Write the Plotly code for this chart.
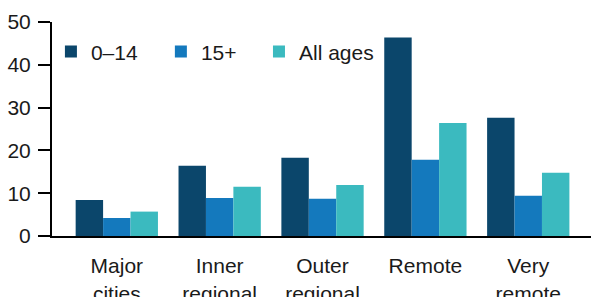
import plotly.graph_objects as go

categories = ["Major<br>cities", "Inner<br>regional", "Outer<br>regional", "Remote", "Very<br>remote"]
series_names = ["0–14", "15+", "All ages"]
age_0_14 = [8.4, 16.4, 18.3, 46.4, 27.6]
age_15_plus = [4.2, 8.9, 8.7, 17.8, 9.4]
all_ages = [5.7, 11.5, 11.9, 26.4, 14.8]
colors = ["#0B466B", "#1479BD", "#3BBABF"]
legend_ids = ["legend", "legend2", "legend3"]
legend_x = [-0.002, 0.202, 0.384]

font = "Arial, Liberation Sans, sans-serif"
fig = go.Figure()
for name, vals, col, lid in zip(series_names, [age_0_14, age_15_plus, all_ages], colors, legend_ids):
    fig.add_trace(go.Bar(x=categories, y=vals, name=name, marker_color=col,
                         marker_line_width=0, legend=lid))

legend_common = dict(orientation="h", xanchor="left", y=0.86, yanchor="middle",
                     font=dict(size=21), bgcolor="rgba(0,0,0,0)")
fig.update_layout(
    width=591, height=297,
    margin=dict(l=52, r=0, t=22, b=61),
    paper_bgcolor="white", plot_bgcolor="white",
    barmode="group", bargap=0.2, bargroupgap=0,
    font=dict(family=font, size=21, color="#1a1a1a"),
    showlegend=True,
    legend=dict(x=legend_x[0], **legend_common),
    legend2=dict(x=legend_x[1], **legend_common),
    legend3=dict(x=legend_x[2], **legend_common),
)
fig.update_xaxes(range=[-0.63, 4.61], showline=True, linecolor="black", linewidth=2,
                 ticks="outside", ticklen=10, tickcolor="rgba(0,0,0,0)", showgrid=False,
                 tickfont=dict(size=21), automargin=False)
fig.update_yaxes(range=[0, 50], tickvals=[0, 10, 20, 30, 40, 50], showline=True, linecolor="black",
                 linewidth=2, ticks="outside", ticklen=12, tickwidth=2, tickcolor="black",
                 showgrid=False, zeroline=False, tickfont=dict(size=21), automargin=False,
                 ticklabelstandoff=3)
fig.write_html("out.html", config={"displayModeBar": False},
               post_script="document.body.style.margin='0';")
